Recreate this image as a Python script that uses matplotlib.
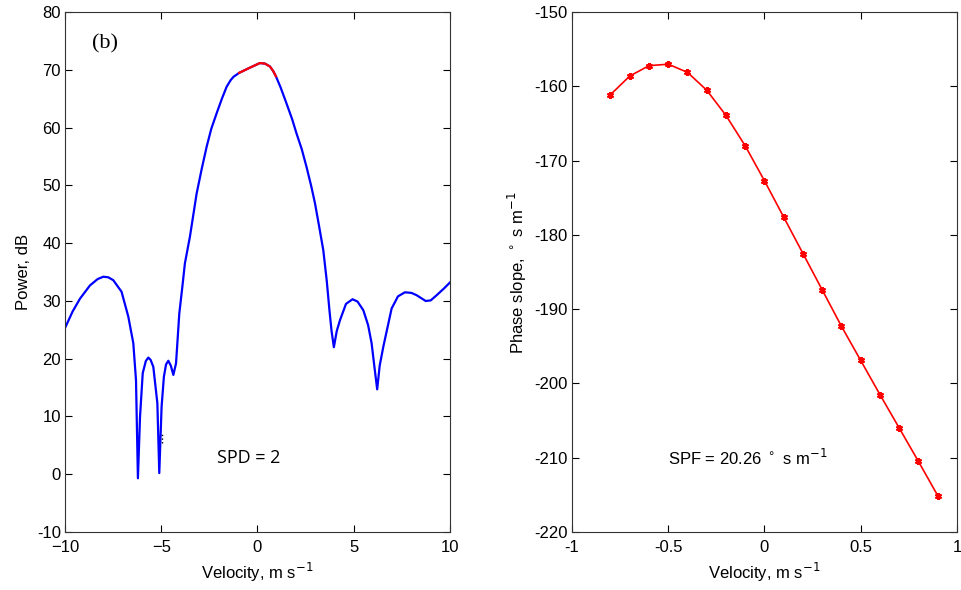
import matplotlib.pyplot as plt

# left panel: power spectrum
vel_p = [-10.0, -9.6, -9.22, -8.7, -8.3, -8.01, -7.75, -7.49, -7.06, -6.71, -6.45,
         -6.31, -6.21, -6.1, -5.96, -5.8, -5.67, -5.55, -5.41, -5.2, -5.1, -4.98,
         -4.86, -4.75, -4.63, -4.5, -4.37, -4.23, -4.06, -3.9, -3.77, -3.51, -3.3,
         -3.16, -2.9, -2.64, -2.4, -2.12, -1.85, -1.6, -1.4, -1.25, -0.95, -0.39,
         0.13, 0.39, 0.65, 0.82, 0.96, 1.2, 1.51, 1.8, 2.03, 2.3, 2.55, 2.8, 2.99,
         3.2, 3.42, 3.6, 3.74, 3.85, 3.97, 4.12, 4.29, 4.6, 4.94, 5.2, 5.5, 5.75,
         5.93, 6.08, 6.22, 6.35, 6.54, 6.97, 7.3, 7.66, 8.0, 8.27, 8.74, 9.0,
         9.31, 9.7, 10.0]
power = [25.3, 28.2, 30.4, 32.7, 33.8, 34.2, 34.1, 33.6, 31.6, 27.3, 22.7,
         16.3, -0.7, 10.0, 17.5, 19.6, 20.2, 19.8, 18.6, 12.3, 0.2, 11.7,
         16.9, 19.0, 19.65, 18.8, 17.2, 19.2, 27.85, 32.5, 36.5, 41.1, 45.6,
         48.6, 52.8, 56.7, 59.8, 62.5, 65.0, 67.1, 68.2, 68.8, 69.5, 70.4,
         71.2, 71.1, 70.6, 69.8, 68.9, 67.0, 64.2, 61.5, 59.0, 56.3, 53.2, 49.8,
         46.9, 43.0, 38.8, 33.5, 28.4, 24.8, 22.0, 24.8, 26.7, 29.5, 30.3, 29.9,
         28.4, 25.8, 22.7, 18.5, 14.7, 18.8, 22.1, 28.7, 30.8, 31.5, 31.4, 31.0,
         30.0, 30.1, 31.0, 32.2, 33.2]
red_lo, red_hi = -0.95, 0.96

# right panel: phase slope
vel_s = [-0.8, -0.7, -0.6, -0.5, -0.4, -0.3, -0.2, -0.1, 0.0, 0.1, 0.2, 0.3,
         0.4, 0.5, 0.6, 0.7, 0.8, 0.9]
slope = [-161.1, -158.6, -157.2, -157.0, -158.1, -160.5, -163.9, -168.0, -172.7,
         -177.6, -182.5, -187.4, -192.3, -196.9, -201.5, -206.0, -210.5, -215.1]

plt.rcParams['font.family'] = ['Liberation Sans', 'DejaVu Sans']
plt.rcParams['font.size'] = 12

fig = plt.figure(figsize=(9.61, 5.9), dpi=100)
ax1 = fig.add_axes([0.0676, 0.0983, 0.4006, 0.881])
ax2 = fig.add_axes([0.5952, 0.0983, 0.4006, 0.881])

ax1.plot(vel_p, power, color='blue', lw=1.6)
red_v = [v for v in vel_p if red_lo <= v <= red_hi]
red_p = [p for v, p in zip(vel_p, power) if red_lo <= v <= red_hi]
ax1.plot(red_v, red_p, color='red', lw=1.6)
ax1.plot([-4.95, -4.95], [5.4, 7.0], color='black', lw=1, ls=':')
ax1.set_xlim(-10, 10)
ax1.set_ylim(-10, 80)
ax1.set_xticks(range(-10, 11, 5))
ax1.set_yticks(range(-10, 81, 10))
ax1.set_xlabel('Velocity, m s$^{-1}$', labelpad=4)
ax1.set_ylabel('Power, dB', labelpad=4)
ax1.text(-8.6, 74.6, '(b)', family=['Liberation Serif', 'DejaVu Serif'],
         fontsize=16, va='center', ha='left')
ax1.text(-2.1, 2.8, 'SPD = 2', family=['Open Sans', 'DejaVu Sans'],
         fontsize=13, va='center', ha='left')

ax2.plot(vel_s, slope, color='red', lw=1.2, marker=(6, 2, 0), ms=5, mew=1.5)
ax2.set_xlim(-1, 1)
ax2.set_ylim(-220, -150)
ax2.set_xticks([-1, -0.5, 0, 0.5, 1])
ax2.set_xticklabels(['-1', '-0.5', '0', '0.5', '1'])
ax2.set_yticks(range(-220, -149, 10))
ax2.set_xlabel('Velocity, m s$^{-1}$', labelpad=4)
ax2.set_ylabel('Phase slope, $^\\circ$ s m$^{-1}$', labelpad=4)
ax2.text(-0.5, -210.0, 'SPF = 20.26 $^\\circ$ s m$^{-1}$', fontsize=12,
         va='center', ha='left')

for ax in (ax1, ax2):
    ax.tick_params(direction='in', top=True, right=True, length=5, width=0.8,
                   labelsize=12)
    ax.tick_params(axis='x', pad=6)
    ax.tick_params(axis='y', pad=3)
    ax.yaxis.set_major_formatter(plt.FuncFormatter(lambda y, _: '%g' % y))
    for s in ax.spines.values():
        s.set_color('#333333')
        s.set_linewidth(0.8)

fig.savefig('out.png', dpi=100)
